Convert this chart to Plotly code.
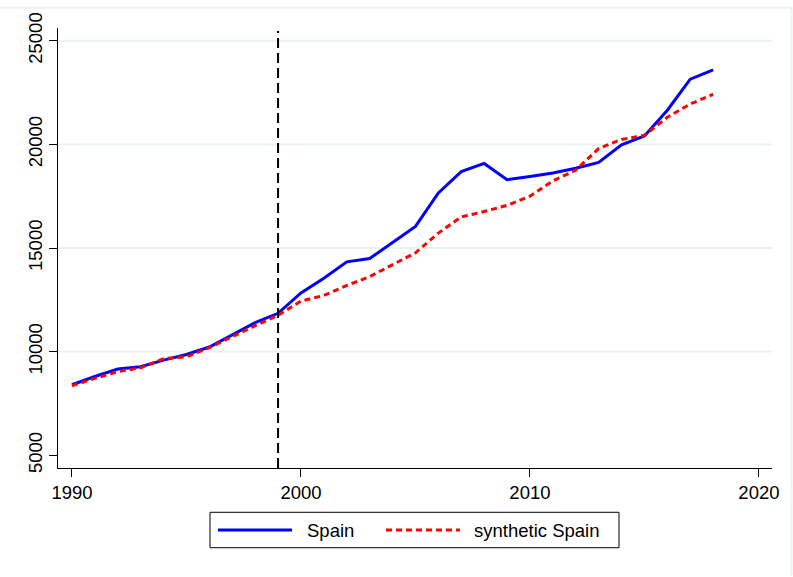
import plotly.graph_objects as go

years = list(range(1990, 2019))
spain = [8400, 8800, 9160, 9270, 9590, 9860, 10220, 10800, 11400, 11850,
         12830, 13540, 14330, 14490, 15280, 16040, 17660, 18690, 19080, 18300,
         18450, 18620, 18850, 19130, 19980, 20410, 21650, 23150, 23600]
synthetic = [8350, 8710, 9030, 9220, 9660, 9750, 10190, 10730, 11250, 11750,
             12440, 12710, 13190, 13620, 14210, 14770, 15720, 16500, 16760, 17060,
             17500, 18240, 18760, 19800, 20240, 20440, 21310, 21950, 22420]
series_names = ["Spain", "synthetic Spain"]
treatment_year = 1999
x_ticks = [1990, 2000, 2010, 2020]
y_ticks = [5000, 10000, 15000, 20000, 25000]
grid_values = [10000, 15000, 20000, 25000]

FONT = "Liberation Sans, Arial, sans-serif"
W, H = 793, 577
L, R, T, B = 58, 21, 21, 109
PW, PH = W - L - R, H - T - B


def px(x):
    return (x - L) / PW


def py(y):
    return (H - B - y) / PH


fig = go.Figure()
fig.add_trace(go.Scatter(x=years, y=spain, mode="lines", name=series_names[0],
                         line=dict(color="#0000ff", width=3), showlegend=False))
fig.add_trace(go.Scatter(x=years, y=synthetic, mode="lines", name=series_names[1],
                         line=dict(color="#ff0000", width=3, dash="6px,4px"),
                         showlegend=False))

shapes = []
# gridlines
for g in grid_values:
    shapes.append(dict(type="line", xref="paper", x0=0, x1=1, yref="y", y0=g, y1=g,
                       line=dict(color="#eaf2f3", width=2), layer="below"))
# treatment line
shapes.append(dict(type="line", xref="x", x0=treatment_year, x1=treatment_year,
                   yref="paper", y0=0, y1=0.993,
                   line=dict(color="black", width=2, dash="10px,5px")))
# outer graph border (top and right edges)
shapes.append(dict(type="line", xref="paper", yref="paper",
                   x0=px(0), x1=px(792), y0=py(0.5), y1=py(0.5),
                   line=dict(color="#eaf2f3", width=2)))
shapes.append(dict(type="line", xref="paper", yref="paper",
                   x0=px(791.5), x1=px(791.5), y0=py(577), y1=py(0),
                   line=dict(color="#eaf2f3", width=2)))
# custom legend
shapes.append(dict(type="rect", xref="paper", yref="paper",
                   x0=px(210), x1=px(619), y0=py(549), y1=py(513),
                   line=dict(color="black", width=1)))
shapes.append(dict(type="line", xref="paper", yref="paper",
                   x0=px(218), x1=px(292), y0=py(531), y1=py(531),
                   line=dict(color="#0000ff", width=3)))
shapes.append(dict(type="line", xref="paper", yref="paper",
                   x0=px(386), x1=px(460), y0=py(531), y1=py(531),
                   line=dict(color="#ff0000", width=3, dash="6px,4px")))

annotations = [
    dict(text=series_names[0], xref="paper", yref="paper", x=px(305), y=py(531),
         xanchor="left", yanchor="middle", showarrow=False,
         font=dict(family=FONT, size=18.5, color="black")),
    dict(text=series_names[1], xref="paper", yref="paper", x=px(472), y=py(531),
         xanchor="left", yanchor="middle", showarrow=False,
         font=dict(family=FONT, size=18.5, color="black")),
]

fig.update_layout(
    width=W, height=H,
    margin=dict(l=L, r=R, t=T, b=B),
    paper_bgcolor="white", plot_bgcolor="white",
    font=dict(family=FONT, size=18.5, color="black"),
    showlegend=False,
    shapes=shapes,
    annotations=annotations,
    xaxis=dict(range=[1989.39, 2020.57], tickvals=x_ticks, ticktext=[str(v) for v in x_ticks],
               showgrid=False, zeroline=False, showline=True, linecolor="black", linewidth=1,
               ticks="outside", ticklen=8, tickwidth=1, tickcolor="black",
               tickfont=dict(family=FONT, size=18.5, color="black")),
    yaxis=dict(range=[4383, 25617], tickvals=y_ticks, ticktext=[str(v) for v in y_ticks],
               showgrid=False, zeroline=False, showline=True, linecolor="black", linewidth=1,
               ticks="outside", ticklen=8, tickwidth=1, tickcolor="black", tickangle=-90,
               tickfont=dict(family=FONT, size=18.5, color="black")),
)

fig.write_html("out.html", config={"displayModeBar": False},
               post_script="document.body.style.margin='0';document.body.style.overflow='hidden';")
